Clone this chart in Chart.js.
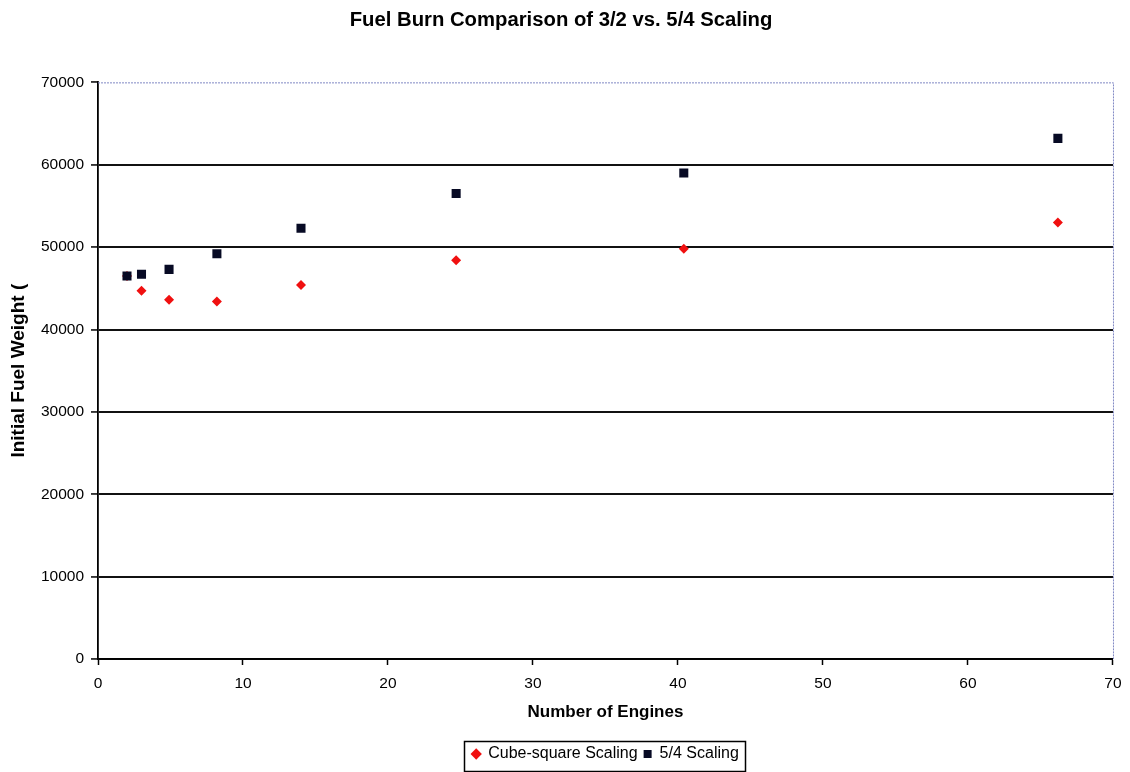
<!DOCTYPE html>
<html>
<head>
<meta charset="utf-8">
<title>Fuel Burn Comparison</title>
<script src="https://cdn.jsdelivr.net/npm/chart.js@4/dist/chart.umd.min.js"></script>
<style>
  html, body { margin: 0; padding: 0; background: #fff; }
  #wrap { width: 1130px; height: 772px; position: relative; }
</style>
</head>
<body>
<div id="wrap"><canvas id="fuelChart"></canvas></div>
<script>
// Data
const engines = [2, 3, 4.9, 8.2, 14, 24.7, 40.4, 66.2];
const cubeSquare = [46500, 44700, 43600, 43400, 45400, 48400, 49800, 53000];
const fiveFour = [46500, 46700, 47300, 49200, 52300, 56500, 59000, 63200];
const xTicks = [0, 10, 20, 30, 40, 50, 60, 70];
const yTicks = [0, 10000, 20000, 30000, 40000, 50000, 60000, 70000];

const FONT = "'Liberation Sans', Arial, sans-serif";

const toPoints = (xs, ys) => xs.map((x, i) => ({ x: x, y: ys[i] }));

// dotted blue-grey frame on top and right of the plot area
const plotFrame = {
    id: 'plotFrame',
    afterDraw(chart) {
        const { ctx, chartArea: a } = chart;
        ctx.save();
        ctx.strokeStyle = '#8088c4';
        ctx.lineWidth = 1;
        ctx.setLineDash([2, 1]);
        ctx.beginPath();
        ctx.moveTo(a.left, a.top + 0.5);
        ctx.lineTo(a.right + 0.5, a.top + 0.5);
        ctx.lineTo(a.right + 0.5, a.bottom);
        ctx.stroke();
        ctx.restore();
    }
};

// box round the legend, like the Excel one
const legendBox = {
    id: 'legendBox',
    afterDraw(chart) {
        const lg = chart.legend;
        if (!lg || !lg.legendHitBoxes.length) return;
        const boxes = lg.legendHitBoxes;
        const left = Math.min(...boxes.map(b => b.left)) - 8;
        const right = Math.max(...boxes.map(b => b.left + b.width)) + 6;
        const top = boxes[0].top - 5;
        const bottom = boxes[0].top + boxes[0].height + 9;
        const ctx = chart.ctx;
        ctx.save();
        ctx.strokeStyle = '#000';
        ctx.lineWidth = 1.5;
        ctx.strokeRect(Math.round(left) + 0.5, Math.round(top) + 0.5, Math.round(right - left), Math.round(bottom - top));
        ctx.restore();
    }
};

const ctx = document.getElementById('fuelChart').getContext('2d');
new Chart(ctx, {
    type: 'scatter',
    data: {
        datasets: [{
            label: 'Cube-square Scaling',
            data: toPoints(engines, cubeSquare),
            order: 2,
            pointStyle: 'rectRot',
            pointRadius: 5,
            backgroundColor: '#f01010',
            borderColor: '#f01010',
            borderWidth: 0
        }, {
            label: '5/4 Scaling',
            data: toPoints(engines, fiveFour),
            order: 1,
            pointStyle: 'rect',
            pointRadius: 6.4,
            backgroundColor: '#070a24',
            borderColor: '#070a24',
            borderWidth: 0
        }]
    },
    options: {
        responsive: true,
        maintainAspectRatio: false,
        animation: false,
        layout: { padding: { left: 0, right: 8, top: 0, bottom: 0 } },
        scales: {
            x: {
                type: 'linear',
                min: 0,
                max: 70,
                afterBuildTicks: s => { s.ticks = xTicks.map(v => ({ value: v })); },
                afterFit: s => { s.height = 81; },
                ticks: { color: '#000', font: { family: FONT, size: 15.5, lineHeight: 1.3 }, padding: 8.4, maxRotation: 0, callback: v => String(v) },
                grid: { drawOnChartArea: false, drawTicks: true, tickLength: 6, tickColor: '#000', tickWidth: 1.5 },
                border: { color: '#000', width: 1.8 },
                title: {
                    display: true,
                    text: 'Number of Engines',
                    color: '#000',
                    font: { family: FONT, size: 17, weight: 'bold' },
                    padding: { top: 0, bottom: 17 }
                }
            },
            y: {
                min: 0,
                max: 70000,
                afterBuildTicks: s => { s.ticks = yTicks.map(v => ({ value: v })); },
                afterFit: s => { s.width = 98; },
                ticks: { color: '#000', font: { family: FONT, size: 15.5 }, padding: 7, callback: v => String(v) },
                grid: {
                    color: c => (c.tick && c.tick.value === 70000) ? 'rgba(0,0,0,0)' : '#111',
                    lineWidth: 1.9,
                    tickLength: 7,
                    tickColor: '#000',
                    tickWidth: 1.5
                },
                border: { color: '#000', width: 1.8 },
                title: {
                    display: true,
                    text: 'Initial Fuel Weight (',
                    color: '#000',
                    font: { family: FONT, size: 19, weight: 'bold' },
                    padding: { top: 7, bottom: 0 }
                }
            }
        },
        plugins: {
            title: {
                display: true,
                text: 'Fuel Burn Comparison of 3/2 vs. 5/4 Scaling',
                color: '#000',
                font: { family: FONT, size: 20.3, weight: 'bold' },
                padding: { top: 8, bottom: 50 }
            },
            legend: {
                position: 'bottom',
                fullSize: false,
                labels: {
                    color: '#000',
                    font: { family: FONT, size: 16 },
                    usePointStyle: true,
                    boxWidth: 8,
                    boxHeight: 8,
                    padding: 6,
                    sort: (a, b) => a.datasetIndex - b.datasetIndex
                }
            },
            tooltip: { enabled: false }
        }
    },
    plugins: [plotFrame, legendBox]
});
</script>
</body>
</html>
